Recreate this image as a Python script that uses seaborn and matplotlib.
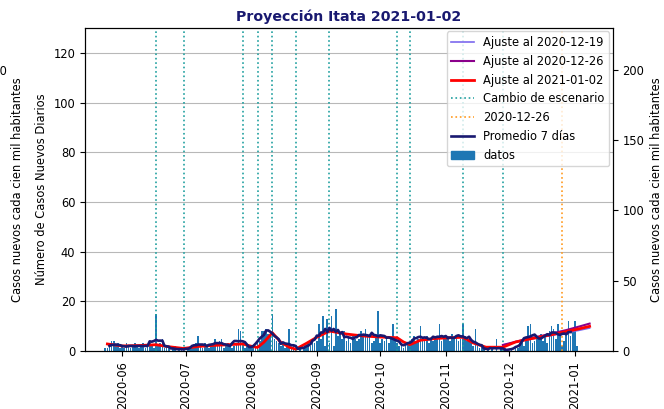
import pandas as pd
import matplotlib
matplotlib.use("Agg")
import matplotlib.pyplot as plt
import matplotlib.dates as mdates
from matplotlib.lines import Line2D
from matplotlib.patches import Patch
import seaborn as sns

# ---- daily new cases (Itata), one list per month ----
may = [0, 1, 1, 2, 4, 4, 2, 3, 1]                      # from 2020-05-23
jun = [2, 1, 3, 2, 1, 2, 3, 2, 1, 2, 3, 1, 2, 3, 2, 1, 15, 2, 3, 5,
       1, 2, 1, 0, 1, 2, 0, 1, 1, 0]
jul = [0, 1, 1, 2, 1, 3, 6, 2, 1, 3, 2, 1, 2, 3, 5, 2, 4, 5, 1, 2,
       3, 2, 1, 2, 3, 9, 8, 3, 1, 2, 1]
aug = [1, 2, 1, 3, 4, 8, 8, 9, 7, 6, 15, 5, 4, 3, 2, 3, 1, 2, 9, 1,
       2, 1, 0, 1, 0, 1, 2, 3, 2, 4, 3]
sep = [4, 11, 5, 14, 2, 13, 3, 14, 2, 17, 6, 7, 5, 8, 4, 6, 3, 7, 5, 4,
       5, 8, 7, 9, 6, 7, 3, 4, 6, 16]
oct_ = [3, 5, 4, 6, 3, 5, 11, 4, 3, 2, 3, 1, 2, 3, 2, 5, 6, 4, 5, 10,
        4, 5, 6, 3, 5, 4, 6, 5, 11, 4, 5]
nov = [5, 6, 4, 7, 5, 6, 4, 5, 11, 6, 4, 5, 3, 2, 9, 2, 1, 2, 1, 0,
       1, 0, 1, 0, 5, 0, 1, 0, 1, 0]
dec = [0, 1, 0, 2, 1, 3, 4, 2, 5, 10, 11, 3, 4, 6, 5, 7, 4, 6, 3, 8,
       10, 9, 5, 11, 6, 2, 4, 8, 12, 6, 9]
jan = [12, 2]

first_day = "2020-05-23"
poblacion = 56545

# scenario changes used by the piecewise fit
cambios = ["2020-06-17", "2020-06-30", "2020-07-28", "2020-08-04",
           "2020-08-11", "2020-08-22", "2020-09-07", "2020-10-09",
           "2020-10-15", "2020-11-09", "2020-11-28"]
fecha_corte = "2020-12-26"

# fitted curves
fit_0102_dates = ["2020-05-25", "2020-06-01", "2020-06-10", "2020-06-17",
                  "2020-06-23", "2020-06-30", "2020-07-07", "2020-07-14",
                  "2020-07-21", "2020-07-28", "2020-08-01", "2020-08-04",
                  "2020-08-07", "2020-08-11", "2020-08-15", "2020-08-19",
                  "2020-08-22", "2020-08-27", "2020-09-01", "2020-09-07",
                  "2020-09-15", "2020-09-23", "2020-10-01", "2020-10-09",
                  "2020-10-12", "2020-10-15", "2020-10-20", "2020-10-27",
                  "2020-11-03", "2020-11-09", "2020-11-14", "2020-11-20",
                  "2020-11-28", "2020-11-28", "2020-12-04", "2020-12-10",
                  "2020-12-16", "2020-12-22", "2020-12-28", "2021-01-03",
                  "2021-01-08"]
fit_0102_vals = [2.8, 2.0, 2.2, 2.5, 1.7, 1.0, 1.8, 2.2, 2.5, 2.8, 1.9, 1.4,
                 3.5, 7.3, 3.5, 1.5, 0.7, 3.0, 5.5, 8.0, 6.8, 6.0, 5.6, 5.3,
                 3.6, 2.5, 4.3, 5.0, 5.3, 5.5, 3.2, 1.5, 0.6, 2.4, 3.6, 4.7,
                 5.7, 6.7, 7.8, 8.9, 9.9]
fit_tail_dates = ["2020-11-28", "2020-12-04", "2020-12-10", "2020-12-16",
                  "2020-12-22", "2020-12-28", "2021-01-03", "2021-01-08"]
fit_1219_vals = [2.4, 3.5, 4.5, 5.5, 6.4, 7.4, 8.3, 9.2]
fit_1226_vals = [2.4, 3.7, 4.9, 6.0, 7.2, 8.4, 9.8, 11.0]

# ---- styling ----
FS = 8.3
plt.rcParams.update({
    "font.family": ["DejaVu Sans"],
    "font.size": FS,
    "axes.titlesize": 10.2,
})

c_bar = "#1f77b4"
c_slate = "#7b68ee"
c_purple = "#8b008b"
c_red = "#ff0000"
c_teal = "#20a0a0"
c_orange = "#ff9a1f"
c_navy = "#191970"

daily = may + jun + jul + aug + sep + oct_ + nov + dec + jan
df = pd.DataFrame({
    "fecha": pd.date_range(first_day, periods=len(daily), freq="D"),
    "casos": daily,
})
df["prom7"] = df["casos"].rolling(7, center=True).mean()

fit_a = pd.DataFrame({"fecha": pd.to_datetime(fit_tail_dates), "v": fit_1219_vals})
fit_b = pd.DataFrame({"fecha": pd.to_datetime(fit_tail_dates), "v": fit_1226_vals})
fit_c = pd.DataFrame({"fecha": pd.to_datetime(fit_0102_dates), "v": fit_0102_vals})

fig = plt.figure(figsize=(6.64, 4.09), dpi=100)
ax = fig.add_axes([0.128, 0.142, 0.795, 0.7895])

ax.bar(df["fecha"], df["casos"], width=0.8, color=c_bar, zorder=1)
for d in cambios:
    ax.axvline(pd.Timestamp(d), color=c_teal, ls=":", lw=1.2, zorder=2)
ax.axvline(pd.Timestamp(fecha_corte), color=c_orange, ls=":", lw=1.2, zorder=2)

sns.lineplot(data=fit_a, x="fecha", y="v", ax=ax, color=c_slate, lw=1.2,
             legend=False, zorder=3)
sns.lineplot(data=fit_b, x="fecha", y="v", ax=ax, color=c_purple, lw=1.5,
             legend=False, zorder=3)
sns.lineplot(data=fit_c, x="fecha", y="v", ax=ax, color=c_red, lw=2.0,
             legend=False, zorder=4, sort=False)
sns.lineplot(data=df.dropna(), x="fecha", y="prom7", ax=ax, color=c_navy,
             lw=1.9, legend=False, zorder=5)

ax.set_xlim(pd.Timestamp("2020-05-14 10:00"), pd.Timestamp("2021-01-19"))
ax.set_ylim(0, 130)
ax.set_yticks([0, 20, 40, 60, 80, 100, 120])
ax.grid(axis="y", color="#b8b8b8", lw=0.8)
ax.set_axisbelow(True)
ax.xaxis.set_major_locator(mdates.MonthLocator())
ax.xaxis.set_major_formatter(mdates.DateFormatter("%Y-%m"))
ax.tick_params(axis="x", labelrotation=90)
ax.set_xlabel("")
ax.set_ylabel("Número de Casos Nuevos Diarios")
ax.set_title("Proyección Itata 2021-01-02", color=c_navy, fontweight="bold", pad=5)

factor = 100000 / poblacion
ax2 = ax.twinx()
ax2.set_ylim(0, 130 * factor)
ax2.set_yticks([0, 50, 100, 150, 200])
ax2.set_ylabel("Casos nuevos cada cien mil habitantes")

# incidence scale repeated on the left, far out
ax3 = ax.twinx()
ax3.set_ylim(0, 130 * factor)
ax3.yaxis.tick_left()
ax3.yaxis.set_label_position("left")
ax3.set_yticks([200])
ax3.tick_params(axis="y", length=0, pad=56.5)
for s in ax3.spines.values():
    s.set_visible(False)
ax3.set_ylabel("Casos nuevos cada cien mil habitantes")
ax3.yaxis.set_label_coords(-0.1155, 0.5)

handles = [
    Line2D([], [], color=c_slate, lw=1.2, label="Ajuste al 2020-12-19"),
    Line2D([], [], color=c_purple, lw=1.5, label="Ajuste al 2020-12-26"),
    Line2D([], [], color=c_red, lw=2.0, label="Ajuste al 2021-01-02"),
    Line2D([], [], color=c_teal, lw=1.2, ls=":", label="Cambio de escenario"),
    Line2D([], [], color=c_orange, lw=1.2, ls=":", label=fecha_corte),
    Line2D([], [], color=c_navy, lw=1.9, label="Promedio 7 días"),
    Patch(color=c_bar, label="datos"),
]
ax2.legend(handles=handles, loc="upper right", fontsize=FS,
           borderaxespad=0.3)

fig.savefig("out.png", dpi=100)
